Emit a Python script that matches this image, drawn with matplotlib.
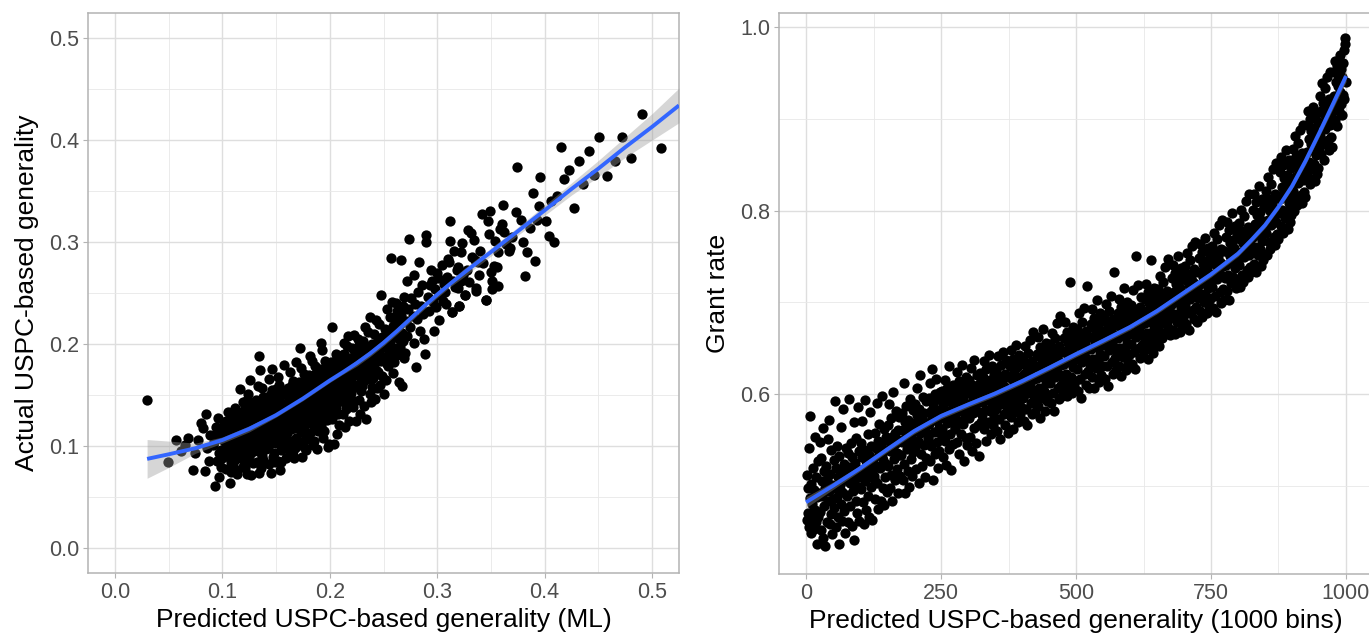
import numpy as np
import matplotlib.pyplot as plt
from matplotlib.ticker import MultipleLocator, FormatStrFormatter

plt.rcParams['font.family'] = ['Liberation Sans', 'DejaVu Sans']

# ---- left panel: predicted (ML) vs actual USPC-based generality, in thousandths
ml_pred = [
    30, 49, 57, 62, 65, 68, 73, 75, 77, 80,
    82, 84, 85, 86, 88, 89, 91, 93, 94, 95,
    96, 97, 98, 99, 92, 95, 97, 99, 100, 101,
    102, 103, 103, 104, 105, 105, 106, 107, 107, 108,
    108, 109, 109, 110, 101, 102, 104, 106, 108, 110,
    111, 111, 112, 112, 113, 113, 114, 114, 115, 115,
    116, 116, 117, 117, 118, 118, 119, 119, 116, 119,
    111, 112, 113, 114, 115, 116, 117, 118, 119, 114,
    120, 120, 121, 121, 122, 122, 123, 123, 124, 124,
    125, 125, 126, 126, 127, 127, 128, 128, 129, 129,
    120, 121, 122, 123, 124, 125, 126, 127, 128, 129,
    121, 123, 125, 127, 129, 122, 124, 126, 128, 120,
    130, 130, 131, 131, 132, 132, 133, 133, 134, 134,
    135, 135, 136, 136, 137, 137, 138, 138, 139, 139,
    130, 131, 132, 133, 134, 135, 136, 137, 138, 139,
    131, 133, 134, 136, 138, 132, 135, 137, 139, 134,
    140, 141, 141, 142, 142, 143, 143, 144, 144, 145,
    145, 146, 146, 147, 147, 148, 148, 149, 149, 140,
    141, 142, 143, 144, 145, 146, 147, 148, 149, 143,
    140, 142, 144, 146, 148, 141, 143, 145, 147, 149,
    150, 150, 151, 151, 152, 152, 153, 153, 154, 154,
    155, 155, 156, 156, 157, 157, 158, 158, 159, 159,
    150, 151, 152, 153, 154, 155, 156, 157, 158, 159,
    151, 153, 155, 157, 159, 150, 152, 154, 156, 158,
    160, 160, 161, 161, 162, 162, 163, 163, 164, 164,
    165, 165, 166, 166, 167, 167, 168, 168, 169, 169,
    160, 161, 162, 163, 164, 165, 166, 167, 168, 169,
    161, 163, 165, 167, 169, 162, 164, 166, 168, 160,
    170, 170, 171, 171, 172, 172, 173, 173, 174, 174,
    175, 175, 176, 176, 177, 177, 178, 178, 179, 179,
    170, 171, 172, 173, 174, 175, 176, 177, 178, 179,
    171, 173, 175, 177, 179, 170, 172, 174, 176, 178,
    180, 180, 181, 181, 182, 182, 183, 183, 184, 184,
    185, 185, 186, 186, 187, 187, 188, 188, 189, 189,
    180, 181, 182, 183, 184, 185, 186, 187, 188, 189,
    181, 183, 185, 187, 189, 182, 184, 186, 188, 180,
    190, 190, 191, 191, 192, 192, 193, 193, 194, 194,
    195, 195, 196, 196, 197, 197, 198, 198, 199, 199,
    190, 191, 192, 193, 194, 195, 196, 197, 198, 199,
    191, 193, 195, 197, 199, 192, 194, 196, 198, 190,
    200, 200, 201, 201, 202, 202, 203, 203, 204, 204,
    205, 205, 206, 206, 207, 207, 208, 208, 209, 209,
    200, 201, 202, 203, 204, 205, 206, 207, 208, 209,
    210, 210, 211, 211, 212, 212, 213, 213, 214, 214,
    215, 215, 216, 216, 217, 217, 218, 218, 219, 219,
    210, 212, 214, 216, 218, 211, 213, 215, 217, 219,
    220, 220, 221, 221, 222, 222, 223, 223, 224, 224,
    225, 225, 226, 226, 227, 227, 228, 228, 229, 229,
    230, 230, 231, 231, 232, 232, 233, 233, 234, 234,
    235, 235, 236, 236, 237, 237, 238, 238, 239, 239,
    221, 223, 225, 227, 229, 231, 233, 235, 237, 239,
    240, 240, 241, 241, 242, 242, 243, 243, 244, 244,
    245, 245, 246, 246, 247, 247, 248, 248, 249, 249,
    250, 250, 251, 251, 252, 252, 253, 253, 254, 254,
    255, 255, 256, 256, 257, 257, 258, 258, 259, 259,
    260, 260, 261, 261, 262, 262, 263, 263, 264, 264,
    265, 265, 266, 266, 267, 267, 268, 268, 269, 269,
    270, 271, 272, 272, 273, 274, 275, 276, 277, 278,
    278, 279, 280, 281, 282, 283, 284, 285, 286, 287,
    288, 289, 290, 290, 291, 292, 293, 294, 295, 296,
    297, 298, 299, 300, 301, 302, 302, 304, 305, 306,
    307, 308, 309, 310, 311, 312, 312, 314, 315, 316,
    317, 318, 319, 319, 320, 322, 322, 323, 324, 326,
    328, 329, 330, 332, 334, 336, 336, 339, 340, 342,
    343, 345, 347, 348, 349, 350, 351, 351, 354, 356,
    357, 357, 358, 361, 364, 367, 368, 373, 374, 378,
    380, 382, 386, 389, 391, 393, 396, 401, 404, 406,
    409, 411, 415, 418, 423, 427, 432, 436, 441, 446,
    451, 458, 465, 472, 480, 491, 508, 370, 335, 360,
    345, 326, 320, 314, 331, 338, 353, 362, 384, 395,
]
ml_actual = [
    145, 84, 106, 95, 101, 108, 76, 93, 106, 122,
    117, 75, 131, 98, 85, 110, 101, 60, 118, 85,
    127, 93, 110, 79, 104, 112, 69, 96, 88, 115,
    97, 77, 124, 108, 91, 133, 102, 63, 117, 84,
    112, 95, 128, 104, 106, 122, 99, 89, 74, 130,
    85, 120, 101, 137, 93, 114, 72, 108, 126, 97,
    156, 104, 88, 121, 111, 133, 79, 99, 117, 143,
    109, 77, 126, 95, 115, 92, 104, 124, 108, 130,
    118, 96, 139, 107, 127, 86, 113, 72, 101, 151,
    122, 91, 109, 164, 71, 134, 116, 99, 141, 83,
    131, 78, 110, 145, 121, 105, 126, 93, 119, 112,
    100, 125, 137, 111, 128, 117, 88, 133, 104, 82,
    124, 97, 145, 113, 84, 131, 107, 159, 120, 73,
    174, 118, 102, 136, 127, 90, 148, 111, 125, 99,
    109, 128, 119, 95, 139, 108, 121, 157, 86, 134,
    117, 135, 101, 78, 122, 142, 129, 114, 106, 188,
    123, 97, 144, 131, 110, 82, 126, 150, 114, 73,
    135, 119, 175, 104, 141, 127, 93, 148, 116, 107,
    129, 118, 137, 102, 122, 155, 130, 111, 84, 113,
    145, 99, 128, 136, 121, 112, 165, 108, 89, 139,
    131, 103, 149, 120, 167, 85, 138, 112, 76, 143,
    126, 96, 153, 134, 117, 179, 107, 140, 129, 88,
    118, 136, 127, 160, 109, 142, 121, 98, 151, 115,
    145, 125, 84, 132, 139, 156, 113, 127, 103, 122,
    138, 112, 157, 129, 96, 146, 121, 172, 135, 105,
    148, 126, 91, 163, 133, 117, 155, 141, 108, 182,
    124, 142, 131, 103, 150, 137, 119, 127, 98, 143,
    116, 134, 160, 88, 129, 140, 116, 137, 125, 151,
    144, 118, 162, 131, 196, 104, 150, 127, 89, 139,
    155, 122, 141, 170, 111, 147, 133, 96, 160, 128,
    130, 151, 136, 113, 157, 140, 119, 164, 145, 107,
    123, 176, 135, 126, 148, 158, 142, 115, 99, 138,
    151, 126, 169, 140, 112, 157, 134, 183, 146, 101,
    161, 131, 148, 178, 119, 153, 141, 97, 166, 136,
    137, 155, 143, 121, 162, 147, 125, 171, 152, 114,
    129, 159, 105, 144, 150, 188, 132, 160, 127, 165,
    158, 131, 175, 146, 119, 164, 139, 194, 152, 108,
    168, 137, 155, 183, 125, 160, 148, 99, 172, 142,
    144, 162, 150, 128, 169, 153, 131, 178, 158, 102,
    136, 166, 114, 151, 157, 201, 140, 166, 134, 173,
    165, 138, 182, 153, 216, 126, 171, 146, 102, 160,
    176, 144, 162, 190, 111, 167, 155, 131, 179, 149,
    151, 169, 157, 135, 176, 160, 138, 186, 164, 120,
    172, 145, 189, 160, 131, 177, 153, 201, 166, 118,
    183, 151, 169, 198, 138, 174, 162, 124, 186, 156,
    158, 184, 142, 175, 149, 167, 190, 136, 208, 171,
    179, 152, 196, 167, 138, 184, 160, 209, 124, 173,
    190, 158, 176, 205, 145, 181, 169, 131, 193, 163,
    186, 159, 203, 174, 139, 191, 167, 216, 126, 180,
    197, 165, 183, 212, 151, 188, 176, 143, 200, 170,
    145, 188, 172, 199, 154, 162, 195, 181, 226, 158,
    193, 166, 210, 181, 146, 198, 174, 223, 188, 157,
    204, 172, 190, 219, 160, 195, 183, 248, 207, 168,
    201, 151, 215, 187, 164, 209, 180, 234, 195, 178,
    212, 184, 199, 226, 284, 205, 192, 241, 217, 171,
    182, 209, 223, 196, 240, 214, 189, 232, 162, 205,
    219, 197, 282, 228, 159, 211, 237, 203, 246, 186,
    191, 222, 262, 208, 234, 303, 216, 245, 227, 268,
    201, 239, 177, 224, 251, 280, 213, 237, 258, 229,
    205, 190, 307, 300, 246, 232, 258, 272, 262, 241,
    213, 254, 236, 269, 265, 223, 248, 277, 242, 259,
    251, 239, 266, 283, 280, 321, 301, 231, 262, 291,
    256, 272, 275, 255, 237, 262, 290, 299, 268, 248,
    272, 312, 261, 285, 302, 255, 252, 268, 291, 327,
    279, 243, 321, 308, 330, 270, 254, 262, 301, 275,
    257, 290, 313, 336, 298, 291, 294, 329, 374, 322,
    300, 267, 314, 348, 281, 322, 364, 321, 306, 340,
    300, 345, 393, 362, 371, 333, 379, 357, 389, 366,
    403, 365, 379, 403, 382, 426, 392, 305, 282, 318,
    243, 248, 237, 231, 309, 280, 276, 310, 290, 335,
]

# smooth fit (and half-width of its band)
ml_fit_x = [0.030, 0.050, 0.075, 0.100, 0.125, 0.150, 0.175, 0.200, 0.2125, 0.225, 0.2375,
            0.250, 0.2625, 0.275, 0.2875, 0.300, 0.3125, 0.325, 0.3375, 0.350, 0.375,
            0.400, 0.425, 0.450, 0.475, 0.500, 0.525]
ml_fit_y = [0.087, 0.0915, 0.0975, 0.1055, 0.1165, 0.130, 0.1462, 0.164, 0.1723, 0.181, 0.1905,
            0.201, 0.2125, 0.2246, 0.2367, 0.2483, 0.2593, 0.2698, 0.280, 0.2901, 0.3105,
            0.331, 0.352, 0.372, 0.393, 0.413, 0.434]
ml_fit_se = [0.019, 0.013, 0.005, 0.003, 0.003, 0.002, 0.002, 0.002, 0.002, 0.003, 0.003,
             0.003, 0.003, 0.003, 0.003, 0.003, 0.003, 0.004, 0.004, 0.004, 0.004,
             0.005, 0.006, 0.008, 0.010, 0.013, 0.017]

# ---- right panel: grant rate per bin (1000 bins), in thousandths
grant_rate = [
    512, 463, 498, 470, 541, 455, 487, 576, 449, 502, 480, 468, 519, 453, 495, 553, 474, 461, 509, 488, 437, 527, 466, 492, 548,
    471, 530, 452, 505, 489, 563, 443, 516, 478, 498, 434, 522, 507, 461, 551, 483, 572, 494, 458, 513, 469, 539, 501, 447, 486,
    528, 476, 592, 497, 455, 519, 488, 543, 466, 509, 437, 532, 501, 480, 564, 493, 462, 515, 584, 472, 524, 449, 506, 541, 490,
    489, 536, 461, 520, 595, 503, 478, 547, 512, 456, 531, 494, 569, 441, 525, 507, 483, 552, 470, 516, 499, 586, 462, 538, 509,
    547, 496, 531, 571, 482, 518, 458, 539, 505, 593, 527, 474, 512, 556, 489, 534, 466, 521, 580, 499, 543, 463, 515, 529, 507,
    511, 557, 486, 541, 522, 590, 503, 549, 475, 536, 567, 519, 483, 545, 531, 598, 497, 528, 562, 479, 539, 509, 553, 524, 493,
    566, 521, 549, 589, 497, 538, 574, 512, 553, 483, 542, 602, 529, 558, 506, 547, 581, 518, 536, 492, 561, 533, 575, 511, 550,
    533, 579, 548, 506, 561, 612, 524, 569, 492, 553, 587, 540, 516, 572, 558, 499, 546, 595, 529, 564, 511, 551, 583, 537, 560,
    589, 541, 570, 518, 577, 606, 549, 562, 503, 584, 557, 621, 535, 573, 521, 566, 597, 544, 579, 509, 560, 592, 530, 568, 553,
    551, 596, 567, 612, 527, 581, 543, 627, 574, 506, 589, 559, 600, 535, 578, 616, 548, 571, 519, 594, 563, 538, 583, 602, 556,
    603, 562, 588, 531, 597, 574, 615, 549, 581, 523, 606, 568, 592, 540, 631, 577, 556, 599, 517, 584, 571, 610, 546, 589, 564,
    562, 607, 579, 624, 548, 593, 571, 614, 535, 588, 601, 556, 632, 583, 567, 597, 527, 609, 575, 590, 552, 618, 581, 544, 603,
    615, 574, 601, 553, 628, 586, 610, 538, 596, 579, 637, 563, 604, 589, 547, 621, 582, 599, 566, 611, 532, 594, 623, 570, 607,
    577, 619, 591, 636, 562, 604, 583, 627, 549, 599, 612, 570, 643, 596, 581, 615, 556, 608, 588, 631, 566, 601, 622, 575, 593,
    626, 584, 612, 560, 641, 597, 619, 573, 606, 551, 632, 589, 615, 600, 646, 578, 609, 566, 622, 594, 637, 581, 604, 557, 618,
    588, 631, 602, 648, 575, 616, 594, 638, 562, 611, 625, 583, 653, 605, 590, 629, 569, 619, 599, 642, 578, 613, 634, 586, 607,
    638, 596, 622, 571, 652, 609, 631, 584, 618, 566, 645, 601, 627, 612, 659, 590, 621, 578, 636, 604, 668, 593, 616, 580, 629,
    601, 644, 617, 662, 587, 630, 606, 651, 574, 625, 639, 596, 671, 619, 603, 642, 581, 633, 612, 656, 592, 627, 648, 599, 621,
    654, 612, 639, 590, 667, 625, 647, 601, 634, 582, 661, 618, 643, 628, 677, 607, 637, 595, 652, 621, 685, 610, 632, 598, 646,
    617, 661, 633, 679, 604, 647, 622, 668, 598, 642, 656, 611, 722, 636, 619, 659, 601, 650, 629, 673, 609, 644, 665, 614, 638,
    671, 627, 656, 603, 688, 641, 664, 616, 651, 596, 679, 635, 660, 645, 694, 622, 654, 610, 669, 638, 718, 625, 649, 607, 662,
    633, 676, 649, 693, 619, 662, 638, 683, 607, 657, 671, 628, 702, 651, 636, 674, 613, 666, 644, 688, 621, 659, 680, 630, 653,
    684, 641, 669, 616, 698, 655, 677, 630, 664, 609, 691, 648, 673, 658, 707, 635, 667, 622, 682, 651, 733, 639, 662, 626, 675,
    645, 688, 661, 704, 631, 674, 650, 695, 620, 669, 683, 640, 716, 663, 648, 686, 626, 678, 656, 700, 634, 671, 692, 643, 665,
    697, 655, 682, 633, 713, 668, 690, 646, 678, 627, 750, 662, 687, 672, 719, 650, 681, 639, 695, 666, 706, 653, 676, 641, 688,
    662, 704, 677, 720, 649, 690, 666, 711, 638, 685, 699, 657, 746, 679, 664, 702, 645, 694, 672, 715, 652, 687, 708, 660, 681,
    714, 673, 700, 652, 729, 686, 707, 665, 695, 661, 722, 680, 704, 689, 738, 668, 698, 675, 712, 683, 747, 671, 693, 664, 706,
    683, 726, 698, 741, 670, 711, 687, 732, 665, 707, 720, 679, 750, 701, 686, 723, 668, 715, 694, 737, 674, 709, 729, 681, 703,
    739, 697, 724, 676, 754, 710, 731, 688, 719, 670, 746, 704, 728, 713, 761, 692, 722, 682, 736, 707, 766, 695, 717, 679, 733,
    705, 748, 719, 763, 690, 733, 709, 755, 684, 728, 742, 700, 770, 722, 707, 745, 688, 737, 716, 759, 696, 730, 751, 703, 724,
    761, 717, 745, 694, 776, 731, 754, 707, 741, 689, 769, 725, 750, 735, 784, 711, 744, 699, 758, 729, 790, 714, 739, 702, 756,
    726, 771, 741, 788, 712, 755, 730, 779, 702, 750, 765, 721, 797, 744, 728, 768, 724, 759, 737, 783, 716, 752, 774, 723, 746,
    786, 741, 769, 717, 801, 755, 778, 730, 765, 722, 794, 749, 774, 759, 810, 735, 768, 727, 782, 752, 818, 738, 763, 733, 780,
    756, 801, 771, 818, 742, 785, 760, 809, 733, 780, 795, 751, 827, 774, 758, 798, 739, 790, 767, 813, 746, 782, 804, 753, 776,
    821, 775, 804, 752, 836, 790, 813, 766, 800, 758, 829, 784, 809, 794, 845, 771, 803, 762, 818, 787, 852, 774, 798, 769, 815,
    797, 842, 812, 858, 783, 826, 801, 850, 776, 821, 835, 792, 866, 815, 799, 839, 780, 830, 808, 855, 788, 823, 846, 795, 817,
    867, 821, 850, 799, 881, 836, 859, 812, 846, 806, 874, 830, 855, 840, 888, 817, 849, 808, 863, 833, 893, 820, 844, 815, 861,
    849, 893, 864, 908, 836, 878, 853, 900, 829, 873, 887, 845, 913, 867, 851, 890, 832, 882, 860, 905, 840, 875, 896, 846, 869,
    925, 881, 909, 862, 939, 895, 917, 872, 905, 855, 933, 889, 913, 898, 946, 877, 908, 866, 922, 893, 951, 880, 903, 869, 920,
    911, 951, 925, 963, 899, 940, 918, 957, 892, 936, 948, 908, 970, 929, 916, 954, 904, 945, 926, 961, 921, 975, 982, 988, 940,
]
bins = np.arange(1, len(grant_rate) + 1)

# smooth fit
bin_fit_x = [0, 50, 100, 150, 200, 250, 300, 350, 400, 450, 500, 550, 600, 650, 700,
             750, 800, 825, 850, 875, 900, 925, 950, 975, 1000]
bin_fit_y = [0.482, 0.500, 0.519, 0.5395, 0.5595, 0.576, 0.5885, 0.6005, 0.614, 0.6285, 0.6435,
             0.658, 0.673, 0.6905, 0.7105, 0.7305, 0.753, 0.768, 0.784, 0.804, 0.8265,
             0.854, 0.884, 0.915, 0.9465]
bin_fit_se = [0.006, 0.004, 0.003, 0.003, 0.003, 0.003, 0.003, 0.003, 0.003, 0.003, 0.003,
              0.003, 0.003, 0.003, 0.003, 0.003, 0.003, 0.003, 0.003, 0.003, 0.003,
              0.004, 0.004, 0.005, 0.006]


def light_theme(ax):
    for s in ax.spines.values():
        s.set_color('#B3B3B3')
        s.set_linewidth(1.1)
    ax.grid(which='major', color='#DEDEDE', linewidth=1.0)
    ax.grid(which='minor', color='#E8E8E8', linewidth=0.6)
    ax.set_axisbelow(True)
    ax.tick_params(which='major', length=3.5, width=0.8, color='#B3B3B3',
                   labelcolor='#4D4D4D', labelsize=15.5, pad=3)
    ax.tick_params(which='minor', length=0)


def smooth(ax, x, y, se):
    x, y, se = np.array(x), np.array(y), np.array(se)
    ax.fill_between(x, y - se, y + se, color='#999999', alpha=0.4, lw=0, zorder=3)
    ax.plot(x, y, color='#3366FF', lw=2.8, zorder=4, solid_capstyle='butt')


fig = plt.figure(figsize=(13.69, 6.34), dpi=100)
ax1 = fig.add_axes([88 / 1369, 61 / 634, 591 / 1369, 560.3 / 634])
ax2 = fig.add_axes([779 / 1369, 60 / 634, 594 / 1369, 561.3 / 634])

# left
ax1.scatter(np.array(ml_pred) / 1000, np.array(ml_actual) / 1000, s=55, c='black', lw=0, zorder=2)
smooth(ax1, ml_fit_x, ml_fit_y, ml_fit_se)
ax1.set_xlim(-0.025, 0.525)
ax1.set_ylim(-0.025, 0.525)
for axis in (ax1.xaxis, ax1.yaxis):
    axis.set_major_locator(MultipleLocator(0.1))
    axis.set_minor_locator(MultipleLocator(0.05))
    axis.set_major_formatter(FormatStrFormatter('%.1f'))
light_theme(ax1)
ax1.set_xlabel('Predicted USPC-based generality (ML)', fontsize=19)
ax1.set_ylabel('Actual USPC-based generality', fontsize=19)

# right
ax2.scatter(bins, np.array(grant_rate) / 1000, s=55, c='black', lw=0, zorder=2)
smooth(ax2, bin_fit_x, bin_fit_y, bin_fit_se)
ax2.set_xlim(-50, 1050)
ax2.set_ylim(0.4038, 1.0156)
ax2.xaxis.set_major_locator(MultipleLocator(250))
ax2.xaxis.set_minor_locator(MultipleLocator(125))
ax2.yaxis.set_major_locator(MultipleLocator(0.2))
ax2.yaxis.set_minor_locator(MultipleLocator(0.1))
ax2.yaxis.set_major_formatter(FormatStrFormatter('%.1f'))
light_theme(ax2)
ax2.set_xlabel('Predicted USPC-based generality (1000 bins)', fontsize=19)
ax2.set_ylabel('Grant rate', fontsize=19)

for ax in (ax1, ax2):
    ax.xaxis.set_label_coords(0.5, -0.084)
    ax.xaxis.label.set_va('center')
    ax.yaxis.set_label_coords(-0.103, 0.5)
    ax.yaxis.label.set_va('center')

fig.savefig('out.png', dpi=100)
